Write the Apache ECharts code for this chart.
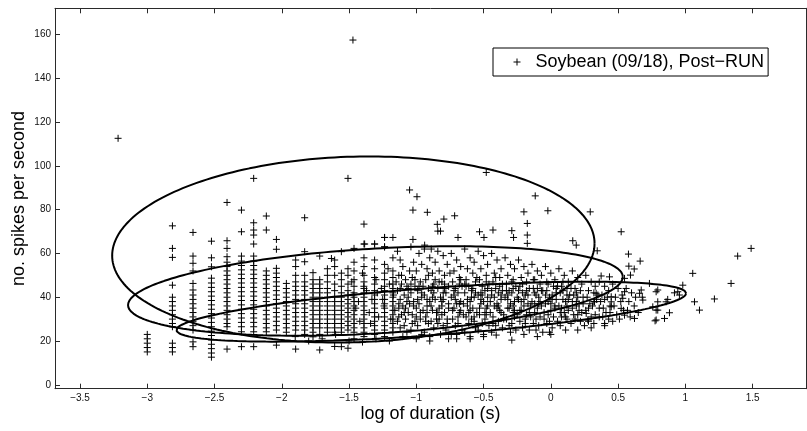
<!DOCTYPE html>
<html>
<head>
<meta charset="utf-8">
<script src="https://cdn.jsdelivr.net/npm/echarts@6/dist/echarts.min.js"></script>
<style>
html,body{margin:0;padding:0;background:#fff;}
#chart{width:807px;height:431px;}
</style>
</head>
<body>
<div id="chart"></div>
<script>
// ---------------- DATA ----------------
const seriesName = 'Soybean (09/18), Post\u2212RUN';
const xTicks = [-3.5, -3, -2.5, -2, -1.5, -1, -0.5, 0, 0.5, 1, 1.5];
const yTicks = [0, 20, 40, 60, 80, 100, 120, 140, 160];

// discrete duration columns (log duration) and their spike-rate values
const colX = [-3.0, -2.813, -2.66, -2.523, -2.407, -2.30, -2.209, -2.115, -2.04, -1.966, -1.897, -1.83, -1.768, -1.718, -1.661, -1.607, -1.557, -1.508, -1.463, -1.389, -1.31, -1.236, -1.174];
const colY = [
  [23, 21, 19, 17, 15],
  [72.6, 62.3, 58.2, 45.5, 40, 38, 36, 34, 32, 30, 28, 26.5, 19, 17, 15],
  [69.6, 58.8, 55.5, 52, 46.3, 43.3, 41, 39, 37, 35, 33, 31, 29, 27, 25, 19.6, 17.4],
  [65.6, 58, 53.9, 48.7, 46.5, 44.5, 42.5, 40.5, 38.5, 36.5, 34.5, 32.5, 30.5, 28.5, 26.5, 24.5, 22.5, 20.5, 18.5, 16.5, 14.5, 12.6],
  [83.3, 65.8, 62.3, 58.5, 56, 54, 52, 50, 48, 46, 44, 42, 40, 38, 36, 34, 32, 30, 28, 26.5, 16.3],
  [79.8, 69.9, 58.8, 56.5, 54.5, 52.5, 50.5, 48.5, 46.5, 44.5, 42.5, 40.5, 38.5, 36.5, 34.5, 32.5, 30.5, 28.5, 26.5, 24.2, 17.4],
  [94.3, 74, 70.7, 68.4, 64.3, 58.8, 56.5, 54.5, 52.5, 50.5, 48.5, 46.5, 44.5, 42.5, 40.5, 38.5, 36.5, 34.5, 32.5, 30.5, 28.5, 26.5, 24.2, 17.4],
  [77.1, 70.7, 52, 50, 48, 46, 44, 42, 40, 38, 36, 34, 32, 30, 28, 26, 24.2],
  [66.4, 61.9, 53.2, 51, 49, 47, 45, 43, 41, 39, 37, 35, 33, 31, 29, 27, 25, 18.1],
  [46.3, 44, 42, 40, 38, 36, 34, 32, 30, 28, 26, 24],
  [57, 54, 50, 47, 45, 43, 41, 39, 37, 35, 33, 31, 29, 27, 25, 16.3],
  [76.3, 60.8, 56.2, 50, 47, 45, 43, 41, 39, 37, 35, 33, 31, 29, 27, 25, 23],
  [51.2, 48, 46, 44, 42, 40, 38, 36, 34, 32, 30, 28, 26, 24, 21.9],
  [58.8, 48, 46, 44, 42, 40, 38, 36, 34, 32, 30, 28, 26, 23, 15.9],
  [53, 50, 47, 44, 42, 40, 38, 36, 34, 32, 30, 28, 26, 24],
  [57, 54, 50, 46, 43, 40, 38, 36, 34, 32, 30, 28, 26, 24, 17.5],
  [51, 48, 45, 42, 40, 38, 36, 34, 32, 30, 28, 26, 24, 17.4],
  [94.3, 53, 50, 46, 43, 41, 39, 37, 35, 33, 31, 29, 27, 25, 16.7],
  [62.3, 56, 52, 48, 45, 42, 40, 38, 36, 34, 32, 30, 28, 26, 24, 21],
  [73.4, 64.3, 58, 54, 50, 47, 44, 42, 40, 38, 36, 34, 32, 30, 28, 26, 24, 22],
  [64.3, 57, 53, 49, 46, 43, 41, 39, 37, 35, 33, 31, 29, 27, 25, 23],
  [67.3, 63, 55, 51, 48, 45, 43, 41, 39, 37, 35, 33, 31, 29, 27, 25, 22],
  [67.3, 58, 52, 49, 46, 44, 42, 40, 38, 36, 34, 32, 30, 28, 26, 24]
];

// dense central cloud [logDuration, spikesPerSecond]
const midPts = [
  [-1.14,61],[-1.12,57],[-1.10,54],[-1.13,50],[-1.08,48],[-1.11,46],[-1.06,44],[-1.14,43],[-1.09,41],[-1.12,39],[-1.07,38],[-1.10,36],[-1.13,35],[-1.06,33],[-1.11,32],[-1.08,30],[-1.14,29],[-1.09,27],[-1.12,26],[-1.07,24],[-1.10,22],[-1.05,52],[-1.06,40],[-1.13,31],
  [-1.04,63],[-0.98,60],[-1.02,56],[-0.96,55],[-1.00,52],[-1.03,49],[-0.97,47],[-1.01,45],[-0.99,43],[-1.04,42],[-0.96,40],[-1.02,38],[-0.98,37],[-1.00,35],[-0.95,34],[-1.03,32],[-0.97,30],[-1.01,29],[-0.99,27],[-1.04,25],[-0.96,23],[-1.00,21],[-0.98,45],[-1.02,36],
  [-0.94,62],[-0.90,58],[-0.86,56],[-0.92,53],[-0.88,51],[-0.93,48],[-0.87,46],[-0.91,44],[-0.89,43],[-0.94,41],[-0.86,39],[-0.90,38],[-0.92,36],[-0.88,34],[-0.85,33],[-0.93,31],[-0.89,29],[-0.91,28],[-0.87,26],[-0.94,24],[-0.90,22],[-0.86,48],[-0.88,40],[-0.92,33],
  [-0.84,61],[-0.80,59],[-0.77,55],[-0.83,52],[-0.79,50],[-0.81,47],[-0.76,45],[-0.84,44],[-0.78,42],[-0.82,40],[-0.80,39],[-0.76,37],[-0.83,35],[-0.79,33],[-0.81,32],[-0.77,30],[-0.84,28],[-0.80,27],[-0.78,25],[-0.82,23],[-0.76,21],[-0.79,46],[-0.81,36],[-0.83,30],
  [-0.74,60],[-0.70,57],[-0.67,54],[-0.72,52],[-0.68,49],[-0.73,47],[-0.66,45],[-0.71,44],[-0.69,42],[-0.74,40],[-0.67,38],[-0.70,37],[-0.72,35],[-0.68,33],[-0.65,32],[-0.73,30],[-0.69,28],[-0.71,27],[-0.66,25],[-0.74,23],[-0.70,21],[-0.68,46],[-0.72,41],[-0.67,34],
  [-0.64,62],[-0.60,58],[-0.57,56],[-0.62,53],[-0.58,51],[-0.63,48],[-0.56,47],[-0.61,45],[-0.59,43],[-0.64,42],[-0.57,40],[-0.60,38],[-0.62,36],[-0.58,35],[-0.55,33],[-0.63,31],[-0.59,30],[-0.61,28],[-0.56,26],[-0.64,24],[-0.60,22],[-0.58,44],[-0.62,39],[-0.57,31],
  [-0.54,61],[-0.50,59],[-0.47,55],[-0.52,53],[-0.48,50],[-0.53,48],[-0.46,46],[-0.51,45],[-0.49,43],[-0.54,41],[-0.47,40],[-0.50,38],[-0.52,37],[-0.48,35],[-0.45,33],[-0.53,32],[-0.49,30],[-0.51,28],[-0.46,27],[-0.54,25],[-0.50,23],[-0.48,47],[-0.52,42],[-0.47,36],
  [-0.44,60],[-0.40,57],[-0.37,53],[-0.42,51],[-0.38,49],[-0.43,47],[-0.36,46],[-0.41,44],[-0.39,42],[-0.44,41],[-0.37,39],[-0.40,37],[-0.42,36],[-0.38,34],[-0.35,32],[-0.43,31],[-0.39,29],[-0.41,27],[-0.36,26],[-0.44,24],[-0.406,22.7],[-0.38,45],[-0.42,40],[-0.37,33],
  [-0.34,58],[-0.30,55],[-0.27,53],[-0.32,50],[-0.28,48],[-0.33,46],[-0.26,45],[-0.31,43],[-0.29,42],[-0.34,40],[-0.27,38],[-0.30,37],[-0.32,35],[-0.28,33],[-0.25,32],[-0.33,30],[-0.29,28],[-0.31,27],[-0.26,25],[-0.29,20.4],[-0.28,44],[-0.32,39],[-0.27,34],
  [-0.24,57],[-0.20,54],[-0.17,51],[-0.22,49],[-0.18,47],[-0.23,45],[-0.16,44],[-0.21,42],[-0.19,41],[-0.24,39],[-0.17,37],[-0.20,36],[-0.22,34],[-0.18,32],[-0.15,31],[-0.23,29],[-0.19,28],[-0.21,26],[-0.16,25],[-0.20,23],[-0.18,43],[-0.22,38],
  [-0.14,55],[-0.10,52],[-0.07,50],[-0.12,48],[-0.08,46],[-0.13,44],[-0.06,43],[-0.11,41],[-0.09,40],[-0.14,38],[-0.07,36],[-0.10,35],[-0.12,33],[-0.08,31],[-0.05,30],[-0.13,28],[-0.09,27],[-0.11,25],[-0.06,24],[-0.10,44],[-0.12,37],
  [-0.04,54],[0.00,51],[0.03,48],[-0.02,46],[0.02,45],[-0.03,43],[0.04,42],[-0.01,40],[0.01,39],[-0.04,37],[0.03,35],[0.00,34],[-0.02,32],[0.02,31],[0.05,29],[-0.03,28],[0.01,26],[-0.01,24],[0.04,44],[-0.02,38],
  [0.06,53],[0.10,50],[0.13,47],[0.08,45],[0.12,44],[0.07,42],[0.14,41],[0.09,39],[0.11,38],[0.06,36],[0.13,34],[0.10,33],[0.08,31],[0.12,30],[0.15,28],[0.07,27],[0.11,25],[0.09,43],[0.12,36],
  [0.16,52],[0.20,49],[0.23,46],[0.18,44],[0.22,43],[0.17,41],[0.24,40],[0.19,38],[0.21,37],[0.16,35],[0.23,33],[0.20,32],[0.18,30],[0.22,29],[0.25,27],[0.19,42],[0.21,34],
  [0.26,50],[0.30,47],[0.33,45],[0.28,43],[0.32,42],[0.27,40],[0.34,39],[0.29,37],[0.31,36],[0.26,34],[0.33,32],[0.30,31],[0.28,29],[0.32,28],[0.35,41],
  [0.36,47],[0.40,45],[0.43,43],[0.38,41],[0.42,40],[0.37,38],[0.44,36],[0.39,35],[0.41,33],[0.36,31],[0.43,30],[0.40,28],
  [0.46,46],[0.50,44],[0.53,41],[0.48,40],[0.52,38],[0.47,36],[0.54,34],[0.49,32],[0.51,30],[0.46,29],
  [0.56,44],[0.60,42],[0.63,40],[0.58,38],[0.62,36],[0.57,34],[0.65,33],[0.59,31],[0.68,40]
];

// extra points filling the densest part of the cloud
const corePts = [
  [-1.48,47],[-1.45,35],[-1.42,29],[-1.40,51],[-1.37,43],[-1.35,33],[-1.33,39],[-1.30,48],[-1.28,31],[-1.26,44],[-1.24,36],[-1.21,53],[-1.19,30],[-1.17,41],[-1.15,47],[-1.13,37],[-1.11,50],[-1.09,33],[-1.07,45],[-1.05,37],[-1.03,28],[-1.01,48],[-0.99,39],[-0.97,33],[-0.95,45],[-0.93,29],[-0.91,50],[-0.89,36],[-0.87,42],[-0.85,30],[-0.83,47],[-0.81,38],[-0.79,44],[-0.77,28],[-0.75,51],[-0.73,34],[-0.71,39],[-0.69,31],[-0.67,48],[-0.65,37],[-0.63,45],[-0.61,33],[-0.59,40],[-0.57,29],[-0.55,49],[-0.53,35],[-0.51,41],[-0.49,33],[-0.47,44],[-0.45,38],[-0.43,28],[-0.41,49],[-0.39,36],[-0.37,41],[-0.35,30],[-0.33,43],[-0.31,35],[-0.29,47],[-0.27,31],[-0.25,40],[-0.23,34],[-0.21,46],[-0.19,30],[-0.17,41],[-0.15,36],[-0.13,48],[-0.11,30],[-0.09,37],[-0.07,43],[-0.05,33],[-0.03,47],[-0.01,29],[0.01,41],[0.03,36],[0.05,45],[0.07,33],[0.09,47],[0.11,31],[0.13,39],[0.15,44],[0.17,32],[0.19,36],
  [-1.47,41],[-1.43,38],[-1.39,45],[-1.34,28],[-1.29,42],[-1.25,39],[-1.20,46],[-1.16,34],[-1.12,44],[-1.08,35],[-1.04,46],[-1.00,31],[-0.96,42],[-0.92,39],[-0.88,45],[-0.84,33],[-0.80,42],[-0.76,35],[-0.72,43],[-0.68,37],[-0.64,46],[-0.60,34],[-0.56,42],[-0.52,39],[-0.48,32],[-0.44,43],[-0.40,35],[-0.36,43],[-0.32,41],[-0.28,36],[-0.24,43],[-0.20,39],[-0.16,33],[-0.12,42],[-0.08,38],[-0.04,41],[0.00,37],[0.04,39],[0.08,35],[0.12,41],[0.16,38],[0.20,40],[0.24,37],[0.28,35],[0.32,38],[0.36,35],[0.40,39],[0.44,33],
  [-1.9,22],[-1.8,20],[-1.7,21],[-1.6,23],[-1.5,20],[-1.4,19.5],[-1.3,21],[-1.2,20],[-0.9,20],[-0.7,23],[-0.6,21],[-0.5,22],[-0.3,24],[-0.1,22],[0.0,23],[0.2,25],[0.3,26],[0.4,27]
];

// sparse points above the cloud
const upperPts = [
  [-1.236,67.3],[-1.31,64.3],[-1.384,64.3],[-1.236,63.0],[-1.557,60.8],[-1.631,57.7],
  [-1.05,89],[-0.995,85.9],[-1.025,79.8],[-0.918,78.8],[-0.795,75.7],[-0.844,73.3],[-0.715,77.2],
  [-0.84,70.2],[-0.82,70.2],[-0.69,67.3],[-0.53,69.9],[-0.497,67.3],[-0.43,70.7],[-0.48,97.0],
  [-0.2,79],[-0.175,73.7],[-0.29,70.4],[-0.277,67.3],[-0.175,68.4],[-1.025,66.4],[-0.938,63.8],[-0.889,62],
  [-0.116,86.3],[-0.022,79.5],[0.293,79.0],[0.523,69.9],[0.163,65.8],[0.189,63.8],[0.345,61.2],
  [0.577,59.7],[0.664,56.5],[0.58,54.2],[0.62,52.9],[-0.175,64.6]
];

// sparse points to the right of the cloud
const rightPts = [
  [0.374,49.7],[0.436,49.3],[0.548,48.6],[0.592,50.1],[0.672,43.3],[0.66,41.8],[0.684,38.7],[0.548,42.5],[0.535,39.5],
  [0.449,40.2],[0.449,37.9],[0.449,35.6],[0.523,34.9],[0.548,31.8],[0.622,30.3],[0.775,29.2],[0.758,35.6],[0.783,34.1],
  [0.733,46.3],[0.783,42.5],[0.386,31.1],[0.325,37.9],[0.337,41.8],[0.263,32.6],[0.275,29.6],
  [0.795,43.3],[0.795,37.9],[0.795,34.1],[0.783,29.6],[0.845,30.3],[0.882,32.9],[0.857,37.9],[0.869,39.0],
  [0.919,42.0],[0.944,42.5],[0.956,41.0],[0.981,45.5],[1.055,50.9],[1.068,37.9],[1.105,34.1],[1.216,39.2],
  [1.34,46.3],[1.389,58.8],[1.489,62.3]
];

// isolated outliers
const outlierPts = [[-1.471,157.5],[-3.217,112.6]];

// fitted ellipses: centre, x half-width, y shear, y half-height
const ellCx  = [-1.468, -1.304, -0.889];
const ellCy  = [61.8, 42.85, 33.4];
const ellLxx = [1.793, 1.839, 1.895];
const ellLyx = [2.8, 6.45, 8.4];
const ellLyy = [42.41, 19.4, 10.82];

// ---------------- BUILD ----------------
const scatter = [];
colX.forEach((x, i) => colY[i].forEach(y => scatter.push([x, y])));
midPts.concat(corePts, upperPts, rightPts, outlierPts).forEach(p => scatter.push(p));

function ellipse(i) {
  const pts = [];
  for (let k = 0; k <= 240; k++) {
    const t = 2 * Math.PI * k / 240;
    pts.push([ellCx[i] + ellLxx[i] * Math.cos(t),
              ellCy[i] + ellLyx[i] * Math.cos(t) + ellLyy[i] * Math.sin(t)]);
  }
  return pts;
}

const FONT = '"Liberation Sans", Arial, Helvetica, sans-serif';
const plusPath = 'path://M5,0 L5,10 M0,5 L10,5';
const fmt = v => String(v).replace('-', '\u2212');

const chart = echarts.init(document.getElementById('chart'), null, {renderer: 'canvas'});
const axisLineStyle = {color: '#2a2a2a', width: 1};
const option = {
  animation: false,
  backgroundColor: '#fff',
  textStyle: {fontFamily: FONT},
  grid: {left: 55, top: 8.3, right: 1, height: 380.4, containLabel: false},
  legend: {
    left: 493, top: 48,
    padding: [5, 4, 5, 18],
    itemWidth: 7, itemHeight: 7,
    borderColor: '#000', borderWidth: 1, borderRadius: 0,
    backgroundColor: '#fff',
    textStyle: {fontSize: 18, fontFamily: FONT, color: '#000', padding: [0, 0, 0, 10]},
    data: [{name: seriesName, icon: plusPath, itemStyle: {color: 'none', borderColor: '#000', borderWidth: 1}}]
  },
  xAxis: [{
    type: 'value', min: -3.686, max: 1.897, position: 'bottom',
    name: 'log of duration (s)', nameLocation: 'middle', nameGap: 16, nameMoveOverlap: false,
    nameTextStyle: {fontSize: 18, fontFamily: FONT, color: '#000'},
    axisLine: {show: true, onZero: false, lineStyle: axisLineStyle},
    axisTick: {show: true, inside: true, length: 5, customValues: xTicks, lineStyle: axisLineStyle},
    axisLabel: {show: true, customValues: xTicks, formatter: fmt, fontSize: 10, color: '#111', margin: 5, fontFamily: FONT},
    splitLine: {show: false}
  }, {
    type: 'value', min: -3.686, max: 1.897, position: 'top',
    axisLine: {show: true, onZero: false, lineStyle: axisLineStyle},
    axisTick: {show: true, inside: true, length: 5, customValues: xTicks, lineStyle: axisLineStyle},
    axisLabel: {show: false},
    splitLine: {show: false}
  }],
  yAxis: [{
    type: 'value', min: -1.8, max: 172, position: 'left',
    name: 'no. spikes per second', nameLocation: 'middle', nameGap: 27, nameRotate: 90, nameMoveOverlap: false,
    nameTextStyle: {fontSize: 18, fontFamily: FONT, color: '#000'},
    axisLine: {show: true, onZero: false, lineStyle: axisLineStyle},
    axisTick: {show: true, inside: true, length: 5, customValues: yTicks, lineStyle: axisLineStyle},
    axisLabel: {show: true, customValues: yTicks, fontSize: 10, color: '#111', margin: 4, fontFamily: FONT},
    splitLine: {show: false}
  }, {
    type: 'value', min: -1.8, max: 172, position: 'right',
    axisLine: {show: true, onZero: false, lineStyle: axisLineStyle},
    axisTick: {show: false},
    axisLabel: {show: false},
    splitLine: {show: false}
  }],
  series: [{
    name: seriesName,
    type: 'scatter',
    data: scatter,
    symbol: plusPath,
    symbolSize: 7,
    itemStyle: {color: 'none', borderColor: '#000', borderWidth: 1, opacity: 1},
    emphasis: {disabled: true},
    z: 2
  }].concat([0, 1, 2].map(i => ({
    name: 'ellipse' + (i + 1),
    type: 'line',
    data: ellipse(i),
    showSymbol: false,
    smooth: false,
    lineStyle: {color: '#000', width: 2},
    emphasis: {disabled: true},
    z: 3
  })))
};
chart.setOption(option);
</script>
</body>
</html>
